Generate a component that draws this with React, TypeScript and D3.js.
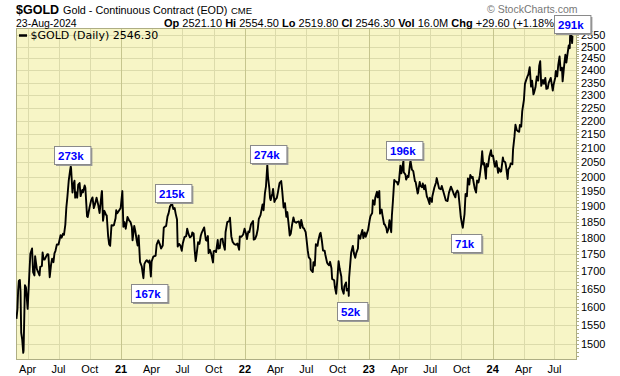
import React from "react";
import * as d3 from "d3";

// ---- Data: $GOLD continuous contract closes ----
const gold2020: [string, number][] = [
  ["2020-02-28", 1567], ["2020-03-02", 1594], ["2020-03-04", 1645], ["2020-03-06", 1672], ["2020-03-09", 1675],
  ["2020-03-11", 1642], ["2020-03-13", 1530], ["2020-03-16", 1512], ["2020-03-19", 1478], ["2020-03-20", 1484],
  ["2020-03-24", 1660], ["2020-03-27", 1654], ["2020-04-01", 1594], ["2020-04-06", 1693], ["2020-04-09", 1752],
  ["2020-04-14", 1768], ["2020-04-17", 1698], ["2020-04-21", 1688], ["2020-04-23", 1745], ["2020-04-28", 1707],
  ["2020-05-01", 1700], ["2020-05-06", 1688], ["2020-05-08", 1713], ["2020-05-13", 1716], ["2020-05-15", 1756],
  ["2020-05-18", 1735], ["2020-05-21", 1735], ["2020-05-29", 1751], ["2020-06-01", 1750], ["2020-06-05", 1683],
  ["2020-06-09", 1720], ["2020-06-12", 1737], ["2020-06-16", 1727], ["2020-06-19", 1753], ["2020-06-22", 1761],
  ["2020-06-26", 1780], ["2020-07-01", 1780], ["2020-07-07", 1809], ["2020-07-10", 1801], ["2020-07-14", 1813],
  ["2020-07-17", 1810], ["2020-07-21", 1842], ["2020-07-24", 1897], ["2020-07-27", 1931], ["2020-07-31", 1986],
  ["2020-08-04", 2021], ["2020-08-06", 2035], ["2020-08-07", 2028], ["2020-08-11", 1946], ["2020-08-13", 1970],
  ["2020-08-17", 1986], ["2020-08-19", 1929], ["2020-08-21", 1947], ["2020-08-25", 1929], ["2020-08-28", 1973],
  ["2020-09-01", 1978], ["2020-09-04", 1934], ["2020-09-09", 1955], ["2020-09-11", 1947], ["2020-09-16", 1970],
  ["2020-09-18", 1962], ["2020-09-23", 1868], ["2020-09-25", 1866], ["2020-09-30", 1895], ["2020-10-05", 1920],
  ["2020-10-09", 1930], ["2020-10-13", 1895], ["2020-10-16", 1906], ["2020-10-21", 1929], ["2020-10-26", 1905],
  ["2020-10-30", 1879], ["2020-11-05", 1946], ["2020-11-06", 1951], ["2020-11-09", 1854], ["2020-11-13", 1886],
  ["2020-11-18", 1873], ["2020-11-20", 1871], ["2020-11-24", 1807], ["2020-11-27", 1781], ["2020-11-30", 1776],
  ["2020-12-04", 1840], ["2020-12-09", 1839], ["2020-12-11", 1840], ["2020-12-16", 1862], ["2020-12-18", 1888],
  ["2020-12-21", 1878], ["2020-12-24", 1883], ["2020-12-31", 1895],
];

const gold2021: [string, number][] = [
  ["2021-01-05", 1951], ["2021-01-08", 1835], ["2021-01-11", 1850], ["2021-01-15", 1829], ["2021-01-20", 1866],
  ["2021-01-25", 1855], ["2021-01-29", 1850], ["2021-02-02", 1834], ["2021-02-04", 1793], ["2021-02-09", 1838],
  ["2021-02-12", 1823], ["2021-02-16", 1794], ["2021-02-19", 1777], ["2021-02-22", 1808], ["2021-02-26", 1728],
  ["2021-03-03", 1715], ["2021-03-08", 1680], ["2021-03-11", 1722], ["2021-03-16", 1731], ["2021-03-18", 1733],
  ["2021-03-23", 1726], ["2021-03-26", 1732], ["2021-03-30", 1685], ["2021-04-01", 1728], ["2021-04-06", 1743],
  ["2021-04-09", 1745], ["2021-04-13", 1746], ["2021-04-16", 1780], ["2021-04-21", 1793], ["2021-04-26", 1779],
  ["2021-04-29", 1768], ["2021-05-04", 1777], ["2021-05-07", 1832], ["2021-05-11", 1836], ["2021-05-14", 1838],
  ["2021-05-18", 1868], ["2021-05-21", 1877], ["2021-05-25", 1899], ["2021-05-28", 1905], ["2021-06-01", 1907],
  ["2021-06-04", 1892], ["2021-06-08", 1895], ["2021-06-11", 1877], ["2021-06-15", 1858], ["2021-06-17", 1774],
  ["2021-06-21", 1782], ["2021-06-25", 1777], ["2021-06-29", 1761], ["2021-07-02", 1783], ["2021-07-07", 1803],
  ["2021-07-12", 1806], ["2021-07-15", 1829], ["2021-07-19", 1812], ["2021-07-23", 1802], ["2021-07-28", 1806],
  ["2021-07-30", 1817], ["2021-08-03", 1814], ["2021-08-06", 1763], ["2021-08-09", 1730], ["2021-08-12", 1753],
  ["2021-08-16", 1787], ["2021-08-20", 1782], ["2021-08-24", 1807], ["2021-08-27", 1817], ["2021-09-03", 1833],
  ["2021-09-08", 1794], ["2021-09-10", 1792], ["2021-09-14", 1806], ["2021-09-16", 1754], ["2021-09-20", 1764],
  ["2021-09-24", 1751], ["2021-09-29", 1726], ["2021-10-01", 1760], ["2021-10-06", 1761], ["2021-10-08", 1757],
  ["2021-10-13", 1794], ["2021-10-15", 1768], ["2021-10-19", 1769], ["2021-10-22", 1796], ["2021-10-27", 1798],
  ["2021-10-29", 1784], ["2021-11-03", 1764], ["2021-11-05", 1818], ["2021-11-10", 1850], ["2021-11-16", 1853],
  ["2021-11-18", 1864], ["2021-11-22", 1805], ["2021-11-26", 1788], ["2021-12-01", 1781], ["2021-12-06", 1779],
  ["2021-12-10", 1783], ["2021-12-15", 1764], ["2021-12-17", 1805], ["2021-12-22", 1804], ["2021-12-27", 1811],
  ["2021-12-31", 1829],
];

const gold2022: [string, number][] = [
  ["2022-01-04", 1815], ["2022-01-07", 1797], ["2022-01-11", 1820], ["2022-01-14", 1818], ["2022-01-19", 1843],
  ["2022-01-25", 1853], ["2022-01-27", 1795], ["2022-01-31", 1797], ["2022-02-04", 1808], ["2022-02-08", 1828],
  ["2022-02-11", 1860], ["2022-02-16", 1872], ["2022-02-22", 1907], ["2022-02-24", 1903], ["2022-02-25", 1888],
  ["2022-03-01", 1944], ["2022-03-04", 1966], ["2022-03-08", 2040], ["2022-03-10", 2000], ["2022-03-14", 1960],
  ["2022-03-16", 1928], ["2022-03-18", 1921], ["2022-03-23", 1944], ["2022-03-25", 1958], ["2022-03-29", 1915],
  ["2022-04-01", 1923], ["2022-04-05", 1928], ["2022-04-08", 1945], ["2022-04-13", 1978], ["2022-04-18", 1985],
  ["2022-04-21", 1951], ["2022-04-25", 1897], ["2022-04-29", 1911], ["2022-05-03", 1867], ["2022-05-06", 1882],
  ["2022-05-10", 1841], ["2022-05-13", 1808], ["2022-05-16", 1813], ["2022-05-20", 1842], ["2022-05-24", 1865],
  ["2022-05-27", 1851], ["2022-06-01", 1848], ["2022-06-03", 1850], ["2022-06-09", 1852], ["2022-06-13", 1831],
  ["2022-06-16", 1857], ["2022-06-21", 1832], ["2022-06-24", 1830], ["2022-06-29", 1818], ["2022-07-01", 1801],
  ["2022-07-05", 1763], ["2022-07-08", 1742], ["2022-07-13", 1735], ["2022-07-14", 1705], ["2022-07-20", 1698],
  ["2022-07-22", 1727], ["2022-07-26", 1717], ["2022-07-29", 1781], ["2022-08-03", 1776], ["2022-08-05", 1791],
  ["2022-08-10", 1813], ["2022-08-12", 1816], ["2022-08-16", 1790], ["2022-08-19", 1762], ["2022-08-24", 1761],
  ["2022-08-26", 1749], ["2022-08-31", 1726], ["2022-09-02", 1722], ["2022-09-06", 1718], ["2022-09-09", 1728],
  ["2022-09-13", 1709], ["2022-09-15", 1678], ["2022-09-21", 1674], ["2022-09-23", 1655], ["2022-09-27", 1636],
  ["2022-09-30", 1672], ["2022-10-04", 1730], ["2022-10-07", 1709], ["2022-10-12", 1685], ["2022-10-14", 1650],
  ["2022-10-19", 1636], ["2022-10-21", 1657], ["2022-10-26", 1668], ["2022-10-28", 1645], ["2022-11-02", 1650],
  ["2022-11-03", 1630], ["2022-11-04", 1681], ["2022-11-10", 1755], ["2022-11-15", 1776], ["2022-11-18", 1754],
  ["2022-11-22", 1740], ["2022-11-25", 1754], ["2022-11-30", 1768], ["2022-12-02", 1809], ["2022-12-07", 1798],
  ["2022-12-09", 1810], ["2022-12-13", 1825], ["2022-12-16", 1800], ["2022-12-20", 1817], ["2022-12-23", 1804],
  ["2022-12-30", 1826],
];

const gold2023: [string, number][] = [
  ["2023-01-04", 1859], ["2023-01-06", 1869], ["2023-01-11", 1879], ["2023-01-13", 1921], ["2023-01-18", 1906],
  ["2023-01-20", 1929], ["2023-01-25", 1949], ["2023-01-27", 1930], ["2023-02-01", 1951], ["2023-02-02", 1917],
  ["2023-02-03", 1877], ["2023-02-08", 1890], ["2023-02-10", 1874], ["2023-02-15", 1843], ["2023-02-17", 1843],
  ["2023-02-22", 1830], ["2023-02-24", 1817], ["2023-02-28", 1828], ["2023-03-03", 1856], ["2023-03-08", 1818],
  ["2023-03-10", 1870], ["2023-03-13", 1917], ["2023-03-17", 1989], ["2023-03-20", 1983], ["2023-03-24", 1983],
  ["2023-03-28", 1973], ["2023-03-31", 1986], ["2023-04-04", 2038], ["2023-04-07", 2011], ["2023-04-13", 2055],
  ["2023-04-14", 2015], ["2023-04-19", 2007], ["2023-04-21", 1990], ["2023-04-26", 2003], ["2023-04-28", 1999],
  ["2023-05-03", 2050], ["2023-05-04", 2055], ["2023-05-08", 2024], ["2023-05-12", 2019], ["2023-05-17", 1984],
  ["2023-05-19", 1982], ["2023-05-25", 1943], ["2023-05-26", 1946], ["2023-05-31", 1982], ["2023-06-02", 1969],
  ["2023-06-07", 1964], ["2023-06-09", 1977], ["2023-06-13", 1957], ["2023-06-16", 1971], ["2023-06-21", 1933],
  ["2023-06-23", 1929], ["2023-06-29", 1908], ["2023-06-30", 1929], ["2023-07-06", 1915], ["2023-07-07", 1932],
  ["2023-07-13", 1962], ["2023-07-18", 1980], ["2023-07-20", 1995], ["2023-07-27", 1960], ["2023-08-01", 1957],
  ["2023-08-04", 1968], ["2023-08-09", 1948], ["2023-08-16", 1920], ["2023-08-21", 1918], ["2023-08-25", 1945],
  ["2023-08-31", 1966], ["2023-09-05", 1952], ["2023-09-08", 1942], ["2023-09-13", 1930], ["2023-09-15", 1945],
  ["2023-09-19", 1953], ["2023-09-22", 1945], ["2023-09-26", 1900], ["2023-09-29", 1866], ["2023-10-03", 1841],
  ["2023-10-05", 1832], ["2023-10-10", 1875], ["2023-10-13", 1941], ["2023-10-17", 1934], ["2023-10-20", 1994],
  ["2023-10-24", 1973], ["2023-10-27", 2006], ["2023-11-01", 1995], ["2023-11-03", 1999], ["2023-11-06", 1979],
  ["2023-11-09", 1960], ["2023-11-13", 1946], ["2023-11-16", 1987], ["2023-11-20", 1980], ["2023-11-24", 2003],
  ["2023-11-28", 2041], ["2023-12-01", 2089], ["2023-12-04", 2042], ["2023-12-07", 2047], ["2023-12-12", 1993],
  ["2023-12-14", 2044], ["2023-12-18", 2035], ["2023-12-22", 2069], ["2023-12-27", 2093], ["2023-12-29", 2072],
];

const gold2024: [string, number][] = [
  ["2024-01-02", 2073], ["2024-01-05", 2050], ["2024-01-08", 2034], ["2024-01-12", 2054], ["2024-01-17", 2013],
  ["2024-01-19", 2029], ["2024-01-24", 2017], ["2024-01-26", 2018], ["2024-01-31", 2067], ["2024-02-02", 2054],
  ["2024-02-07", 2050], ["2024-02-09", 2038], ["2024-02-14", 1992], ["2024-02-16", 2024], ["2024-02-21", 2035],
  ["2024-02-23", 2046], ["2024-02-28", 2043], ["2024-03-01", 2096], ["2024-03-05", 2141], ["2024-03-08", 2186],
  ["2024-03-12", 2166], ["2024-03-15", 2162], ["2024-03-19", 2160], ["2024-03-21", 2185], ["2024-03-25", 2179],
  ["2024-03-28", 2238], ["2024-04-02", 2281], ["2024-04-05", 2345], ["2024-04-09", 2362], ["2024-04-12", 2374],
  ["2024-04-15", 2383], ["2024-04-19", 2413], ["2024-04-23", 2334], ["2024-04-26", 2358], ["2024-04-30", 2303],
  ["2024-05-02", 2310], ["2024-05-06", 2331], ["2024-05-10", 2375], ["2024-05-14", 2358], ["2024-05-17", 2418],
  ["2024-05-20", 2438], ["2024-05-23", 2337], ["2024-05-28", 2361], ["2024-05-31", 2345], ["2024-06-04", 2369],
  ["2024-06-07", 2325], ["2024-06-11", 2327], ["2024-06-14", 2349], ["2024-06-20", 2369], ["2024-06-26", 2318],
  ["2024-06-28", 2339], ["2024-07-03", 2369], ["2024-07-05", 2397], ["2024-07-09", 2375], ["2024-07-12", 2421],
  ["2024-07-16", 2458], ["2024-07-19", 2400], ["2024-07-23", 2411], ["2024-07-25", 2355], ["2024-07-30", 2427],
  ["2024-08-02", 2465], ["2024-08-05", 2432], ["2024-08-08", 2464], ["2024-08-12", 2505], ["2024-08-15", 2493],
  ["2024-08-16", 2546], ["2024-08-20", 2549], ["2024-08-22", 2515], ["2024-08-23", 2546.3],
];

// ---- Axes ----
const yTicks = [1500, 1550, 1600, 1650, 1700, 1750, 1800, 1850, 1900, 1950, 2000, 2050, 2100, 2150, 2200, 2250, 2300, 2350, 2400, 2450, 2500, 2550];
const xTickDates = [
  "2020-04-01", "2020-07-01", "2020-10-01", "2021-01-01", "2021-04-01", "2021-07-01", "2021-10-01",
  "2022-01-01", "2022-04-01", "2022-07-01", "2022-10-01", "2023-01-01", "2023-04-01", "2023-07-01",
  "2023-10-01", "2024-01-01", "2024-04-01", "2024-07-01",
];
const xTickLabels = ["Apr", "Jul", "Oct", "21", "Apr", "Jul", "Oct", "22", "Apr", "Jul", "Oct", "23", "Apr", "Jul", "Oct", "24", "Apr", "Jul"];

// ---- Volume annotations ----
const annLabels = ["273k", "167k", "215k", "274k", "52k", "196k", "71k", "291k"];
const annDates = ["2020-08-06", "2021-03-08", "2021-06-01", "2022-03-08", "2022-11-03", "2023-04-13", "2023-10-05", "2024-08-20"];
const annValues = [2035, 1680, 1907, 2040, 1630, 2055, 1832, 2549];
const annSides = ["above", "below", "above", "above", "below", "above", "below", "above"];

// ---- Header texts ----
const symbol = "$GOLD";
const title = "Gold - Continuous Contract (EOD)";
const exchange = "CME";
const asOf = "23-Aug-2024";
const quoteLabels = ["Op", "Hi", "Lo", "Cl", "Vol", "Chg"];
const quoteValues = ["2521.10", "2554.50", "2519.80", "2546.30", "16.0M", "+29.60 (+1.18%)"];
const legendText = "$GOLD (Daily) 2546.30";
const watermark = "\u00A9 StockCharts.com";

export default function App() {
  const L = 16, R = 577, T = 28, B = 360;
  const parse = d3.timeParse("%Y-%m-%d");
  const series = [...gold2020, ...gold2021, ...gold2022, ...gold2023, ...gold2024].map(([d, v]) => ({ date: parse(d) as Date, value: v }));

  const x = d3.scaleTime().domain([parse("2021-01-01") as Date, parse("2024-01-01") as Date]).range([121, 492.7]);
  const y = d3.scaleLog().domain([1500, 2550]).range([344.3, 35]);

  const line = d3.line<{ date: Date; value: number }>().x((d) => x(d.date)).y((d) => y(d.value)).curve(d3.curveLinear);

  const sans = "'Liberation Sans', Arial, sans-serif";
  const bg = "#f7f5c6";
  const grid = "#dcdbab";
  const gridYear = "#c6c58e";
  const border = "#aeae84";

  const minorTicks = d3.range(1460, 2590, 10);

  return (
    <svg width={620} height={376} style={{ position: "absolute", left: 0, top: 0, display: "block" }} fontFamily={sans}>
      <rect x={0} y={0} width={620} height={376} fill="#ffffff" />
      <defs>
        <clipPath id="plotClip">
          <rect x={L} y={T} width={R - L} height={B - T} />
        </clipPath>
      </defs>
      {/* plot background */}
      <rect x={L} y={T} width={R - L} height={B - T} fill={bg} />
      {/* horizontal grid */}
      {yTicks.map((t) => (
        <line key={"h" + t} x1={L} x2={R} y1={Math.round(y(t)) + 0.5} y2={Math.round(y(t)) + 0.5} stroke={grid} strokeWidth={1} />
      ))}
      {/* vertical grid */}
      {xTickDates.map((d, i) => {
        const xx = Math.round(x(parse(d) as Date)) + 0.5;
        const isYear = /^\d+$/.test(xTickLabels[i]);
        return <line key={"v" + d} x1={xx} x2={xx} y1={T} y2={B} stroke={isYear ? gridYear : grid} strokeWidth={1} />;
      })}
      {/* border */}
      <rect x={L + 0.5} y={T + 0.5} width={R - L - 1} height={B - T - 1} fill="none" stroke={border} strokeWidth={1} />
      {minorTicks.map((v) => {
        const yy = y(v);
        if (yy < T || yy > B) return null;
        return <line key={"m" + v} x1={R} x2={R + 2} y1={Math.round(yy) + 0.5} y2={Math.round(yy) + 0.5} stroke={border} strokeWidth={1} />;
      })}
      {/* price line */}
      <path d={line(series) || ""} fill="none" stroke="#000" strokeWidth={1.9} strokeLinejoin="round" clipPath="url(#plotClip)" />

      {/* legend */}
      <line x1={19} x2={27} y1={35.5} y2={35.5} stroke="#000" strokeWidth={2.5} />
      <text x={30.5} y={39} fontFamily="'DejaVu Sans', Verdana, sans-serif" fontSize={11} fill="#000">{legendText}</text>

      {/* right axis labels */}
      {yTicks.map((t) => (
        <text key={"yl" + t} x={581} y={y(t)} dy="0.36em" fontSize={11} fill="#000">{t}</text>
      ))}
      {/* bottom axis labels */}
      {xTickDates.map((d, i) => {
        const isYear = /^\d+$/.test(xTickLabels[i]);
        return (
          <text key={"xl" + d} x={x(parse(d) as Date)} y={373} textAnchor="middle" fontSize={11} fontWeight={isYear ? "bold" : "normal"} fill="#000">
            {xTickLabels[i]}
          </text>
        );
      })}

      {/* header */}
      <text x={16} y={13.5} fontSize={12.5} fontWeight="bold" fill="#000">{symbol}</text>
      <text x={63} y={13.5} fontSize={10.8} fill="#000">{title}</text>
      <text x={231} y={13.5} fontSize={9.5} fill="#000">{exchange}</text>
      <text x={487} y={12.5} fontSize={10.5} fill="#777">{watermark}</text>
      <text x={16} y={26.5} fontSize={10.5} fill="#000">{asOf}</text>
      <text x={164} y={26.5} fontSize={11} fill="#000">
        {quoteLabels.map((lab, i) => (
          <React.Fragment key={lab}>
            <tspan fontWeight="bold">{(i > 0 ? " " : "") + lab}</tspan>
            <tspan>{" " + quoteValues[i]}</tspan>
          </React.Fragment>
        ))}
      </text>

      {/* annotations */}
      {annLabels.map((lab, i) => {
        const ax = x(parse(annDates[i]) as Date);
        const ay = y(annValues[i]);
        const w = lab.length * 6.1 + 12;
        const h = 18;
        const bx = Math.round(annSides[i] === "above" ? ax - 17 : ax - 12);
        const by = Math.round(annSides[i] === "above" ? ay - 2 - h : ay + 6);
        return (
          <g key={"a" + i}>
            <rect x={bx + 2} y={by + 2} width={w} height={h} fill="#9a9a9a" />
            <rect x={bx + 0.5} y={by + 0.5} width={w} height={h} fill="#fff" stroke="#8a8a8a" strokeWidth={1} />
            <text x={bx + 4} y={by + 13.5} fontSize={11.5} fontWeight="bold" fill="#0000ff">{lab}</text>
          </g>
        );
      })}
    </svg>
  );
}
